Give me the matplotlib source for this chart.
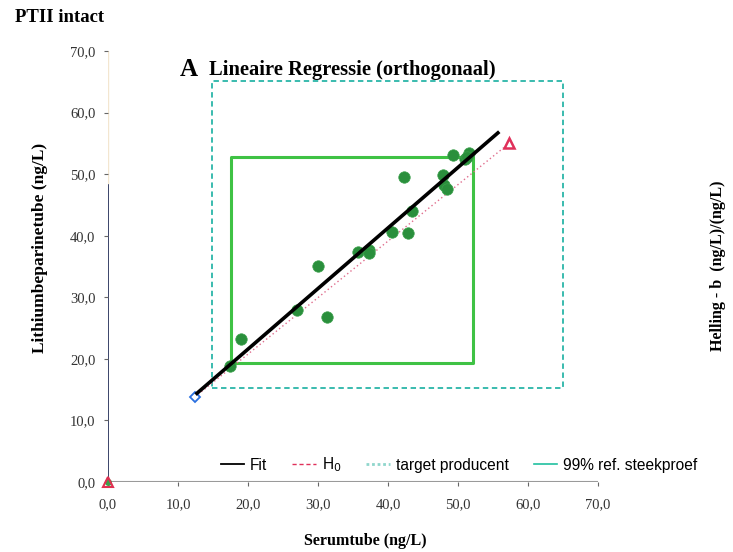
import matplotlib
matplotlib.use("Agg")
import matplotlib.pyplot as plt
from matplotlib.lines import Line2D

# ---- data ----
serum = [17.4, 19.0, 27.0, 30.0, 31.3, 35.7, 37.3, 37.3, 40.6, 42.9, 43.4, 42.3,
         47.9, 48.0, 48.4, 49.3, 51.0, 51.6, 51.3]
lithium = [18.8, 23.2, 27.9, 35.1, 26.8, 37.3, 37.7, 37.2, 40.6, 40.4, 44.0, 49.5,
           49.8, 48.2, 47.6, 53.1, 52.4, 53.4, 52.8]
fit_x = [12.7, 55.7]
fit_y = [14.4, 56.7]
h0_x = [12.4, 57.3]
h0_y = [13.8, 55.0]
target_box_x = [14.9, 65.0]
target_box_y = [15.3, 65.1]
ref_box_x = [17.6, 52.1]
ref_box_y = [19.3, 52.8]
ticks = [0, 10, 20, 30, 40, 50, 60, 70]
tick_labels = ["0,0", "10,0", "20,0", "30,0", "40,0", "50,0", "60,0", "70,0"]

fig = plt.figure(figsize=(7.33, 5.52), dpi=100)
ax = fig.add_axes([108/733, 1-482/552, 490/733, 431/552])
ax.set_xlim(0, 70)
ax.set_ylim(0, 70)

serif = "Liberation Serif"

# boxes
tx0, tx1 = target_box_x
ty0, ty1 = target_box_y
ax.plot([tx0, tx1, tx1, tx0, tx0], [ty0, ty0, ty1, ty1, ty0], color="#2ab5a8",
        lw=1.3, ls=(0, (3, 2)), zorder=2)
rx0, rx1 = ref_box_x
ry0, ry1 = ref_box_y
ax.plot([rx0, rx1, rx1, rx0, rx0], [ry0, ry0, ry1, ry1, ry0], color="#3fc244",
        lw=2.2, zorder=2)

# H0 line and end markers
ax.plot(h0_x, h0_y, color="#e06c8c", lw=1.0, ls=(0, (1, 2)), zorder=3)
ax.plot(h0_x[0], h0_y[0], marker="D", ms=5, mfc="white", mec="#2a6fe0", mew=1.3, zorder=5, clip_on=False)
ax.plot(h0_x[1], h0_y[1], marker="^", ms=7, mfc="white", mec="#e0305a", mew=1.8, zorder=5)

# points
ax.scatter(serum, lithium, s=68, color="#2a8f3c", zorder=4, edgecolors="#3aa04a", linewidths=0.5)

# fit line
ax.plot(fit_x, fit_y, color="black", lw=2.6, zorder=5)

# origin markers
ax.plot(0, 0, marker="^", ms=7, mfc="none", mec="#e03050", mew=1.5, clip_on=False, zorder=6)
ax.plot(0, 0, marker="o", ms=4, color="#3aa04a", clip_on=False, zorder=5)

# spines
for s in ["top", "right", "left", "bottom"]:
    ax.spines[s].set_visible(False)
ax.axvline(0, ymin=0, ymax=48.5/70, color="#1a2550", lw=1.2, zorder=1)
ax.axvline(0, ymin=48.5/70, ymax=1, color="#f3e6d0", lw=1.0, zorder=1)
ax.axhline(0, xmin=0, xmax=1.0, color="#9a9a9a", lw=1.5, zorder=1)

ax.set_xticks(ticks)
ax.set_xticklabels(tick_labels, fontfamily=serif, fontsize=10.5, color="#333333")
ax.set_yticks(ticks)
ax.set_yticklabels(tick_labels, fontfamily=serif, fontsize=10.5, color="#333333")
ax.tick_params(axis="x", length=3, width=0.8, color="#666666", pad=9, direction="out")
ax.tick_params(axis="y", length=3, width=0.8, color="#666666", pad=6, direction="out")

# labels
fig.text(40/733, 1-248/552, "Lithiumbeparinetube (ng/L)", rotation=90, ha="center", va="center",
         fontfamily=serif, fontweight="bold", fontsize=12.5)
fig.text(365/733, 1-541/552, "Serumtube (ng/L)", ha="center", va="center",
         fontfamily=serif, fontweight="bold", fontsize=11.5)
fig.text(718/733, 1-266/552, "Helling - b  (ng/L)/(ng/L)", rotation=90, ha="center", va="center",
         fontfamily=serif, fontweight="bold", fontsize=11.5)
fig.text(15/733, 1-18/552, "PTII intact", ha="left", va="center",
         fontfamily=serif, fontweight="bold", fontsize=13.5)
fig.text(180/733, 1-70/552, "A", ha="left", va="center",
         fontfamily=serif, fontweight="bold", fontsize=18)
fig.text(209/733, 1-70/552, "Lineaire Regressie (orthogonaal)", ha="left", va="center",
         fontfamily=serif, fontweight="bold", fontsize=14.8)

# legend
handles = [
    Line2D([], [], color="black", lw=1.3),
    Line2D([], [], color="#e0305a", lw=1.0, ls=(0, (3, 2))),
    Line2D([], [], color="#8fd6cc", lw=2, ls=(0, (1, 1))),
    Line2D([], [], color="#20c0a0", lw=1.2),
]
labels = ["Fit", "H$_0$", "target producent", "99% ref. steekproef"]
fig.legend(handles, labels, loc="center", bbox_to_anchor=(459/733, 1-465/552), ncol=4,
           frameon=False, prop={"family": "Liberation Sans", "size": 11.2},
           handlelength=1.5, handletextpad=0.4, columnspacing=1.6)

fig.savefig("out.png", dpi=100)
